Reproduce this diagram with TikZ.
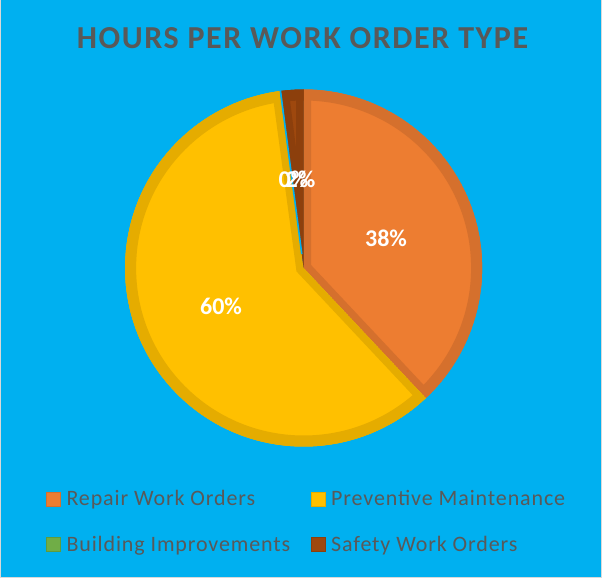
\documentclass[tikz,border=0pt]{standalone}
\usepackage{fontspec}
\setmainfont{Carlito}
\usetikzlibrary{calc}
\definecolor{bgblue}{HTML}{00B0F0}
\definecolor{framegray}{HTML}{D9D9D9}
\definecolor{txtgray}{HTML}{595959}
\definecolor{orL}{HTML}{ED7D31}
\definecolor{orD}{HTML}{D5702D}
\definecolor{yeL}{HTML}{FFC000}
\definecolor{yeD}{HTML}{E5AC00}
\definecolor{brL}{HTML}{9E480E}
\definecolor{brD}{HTML}{8C3F0C}
\definecolor{grL}{HTML}{70AD47}
\definecolor{grD}{HTML}{5F9B3D}
\newcommand\pieslice[4]{%
  \begin{scope}
    \clip (C) -- ++(#1:\R) arc[start angle=#1,end angle=#2,radius=\R] -- cycle;
    \fill[#3] (C) -- ++(#1:\R) arc[start angle=#1,end angle=#2,radius=\R] -- cycle;
    \draw[#4, line width=15pt, line join=miter] (C) -- ++(#1:\R) arc[start angle=#1,end angle=#2,radius=\R] -- cycle;
    \draw[#4, line width=22pt] ($(C)+(#1:\R)$) arc[start angle=#1,end angle=#2,radius=\R];
  \end{scope}}
\tikzset{
  pielabel/.style={text=white, font=\fontsize{24}{28}\selectfont\bfseries, inner sep=0, anchor=base},
  legendtext/.style={text=txtgray, font=\fontsize{22}{26}\selectfont\addfontfeatures{LetterSpace=4}, inner sep=0, anchor=base west},
  legendkey/.style={minimum width=14pt, minimum height=14pt, inner sep=0, line width=0.8pt},
  titletext/.style={text=txtgray, font=\fontsize{32}{36}\selectfont\bfseries\addfontfeatures{LetterSpace=5}, inner sep=0, anchor=base}
}
\begin{document}
\begin{tikzpicture}[x=1pt,y=1pt]
\useasboundingbox (0,0) rectangle (604,579);
\fill[white] (0,0) rectangle (604,579);
\fill[bgblue] (1,2) rectangle (601,579);
\draw[framegray, line width=1pt] (0.5,579) -- (0.5,1.5) -- (601.5,1.5) -- (601.5,579);

\node[titletext] (title) at (302.5,530.7) {HOURS PER WORK ORDER TYPE};

\coordinate (C) at (303.6,311);
\def\R{178.5}
\pieslice{90}{-46.8}{orL}{orD}
\pieslice{-46.8}{-262.3}{yeL}{yeD}
\pieslice{-262.8}{-270}{brL}{brD}
\coordinate (gapin) at ($(C)+(-262.55:14)$);
\coordinate (gapout) at ($(C)+(-262.55:\R)$);
\draw[bgblue, line width=1.6pt] (gapin) -- (gapout);

\node[pielabel] (l38) at (386,333) {38\%};
\node[pielabel] (l60) at (221,264.7) {60\%};
\node[pielabel] (l0) at (293.5,391.3) {0\%};
\node[pielabel] (l2) at (300.5,391.3) {2\%};

\node[legendkey, fill=orL, draw=orD] (k1) at (53,80) {};
\node[legendtext] (t1) at (66.3,74) {Repair Work Orders};
\node[legendkey, fill=yeL, draw=yeD] (k2) at (318.6,80) {};
\node[legendtext] (t2) at (331,74) {Preventive Maintenance};
\node[legendkey, fill=grL, draw=grD] (k3) at (53,35) {};
\node[legendtext] (t3) at (66.3,28) {Building Improvements};
\node[legendkey, fill=brL, draw=brD] (k4) at (318.6,35) {};
\node[legendtext] (t4) at (331,28) {Safety Work Orders};
\end{tikzpicture}
\end{document}
